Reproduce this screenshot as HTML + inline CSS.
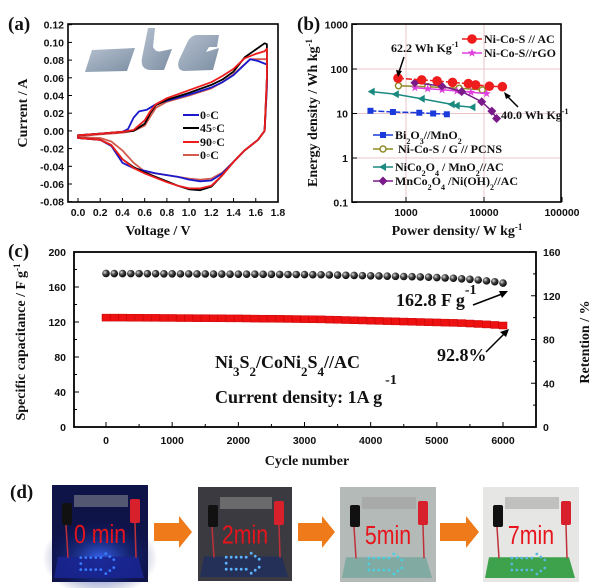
<!DOCTYPE html>
<html><head><meta charset="utf-8"><style>
html,body{margin:0;padding:0;background:#fff;}
svg{display:block;}
.tk{font-family:"Liberation Sans",sans-serif;font-weight:bold;font-size:10.5px;fill:#111;}
.tt{font-family:"Liberation Serif",serif;font-weight:bold;fill:#111;}
.pl{font-family:"Liberation Serif",serif;font-weight:bold;font-size:19px;fill:#111;}
.lg{font-family:"Liberation Serif",serif;font-weight:bold;font-size:12px;fill:#111;}
.mn{font-family:"Liberation Sans",sans-serif;font-size:26px;fill:#e8141c;}
</style></head><body>
<svg id="fig" width="600" height="588" viewBox="0 0 600 588" xmlns="http://www.w3.org/2000/svg">
<defs>
<radialGradient id="sph" cx="0.35" cy="0.35" r="0.7"><stop offset="0" stop-color="#ddd"/><stop offset="0.45" stop-color="#444"/><stop offset="1" stop-color="#000"/></radialGradient>
<linearGradient id="shp" x1="0" y1="0" x2="1" y2="1"><stop offset="0" stop-color="#b4c0cf"/><stop offset="1" stop-color="#7d8ea3"/></linearGradient>
<radialGradient id="glow" cx="0.5" cy="0.5" r="0.5"><stop offset="0" stop-color="#3a6cff" stop-opacity="0.9"/><stop offset="1" stop-color="#0a1060" stop-opacity="0"/></radialGradient>
</defs>
<g id="pa"></g>
<g id="pb"></g>
<g id="pc"></g>
<g id="pd"></g>
</svg>
<script>
// ---------- Panel (a) data ----------
const cvV45 = [0,0.2,0.4,0.5,0.6,0.65,0.7,0.8,1.0,1.2,1.3,1.4,1.5,1.6,1.68,1.7,1.7,1.68,1.62,1.5,1.4,1.3,1.2,1.1,1.0,0.9,0.8,0.7,0.6,0.5,0.4,0.3,0.2,0];
const cvI45 = [-0.005,-0.003,-0.001,0.0,0.008,0.02,0.029,0.035,0.043,0.052,0.058,0.067,0.083,0.092,0.099,0.098,0.06,0.0,-0.01,-0.022,-0.035,-0.05,-0.063,-0.067,-0.066,-0.062,-0.057,-0.052,-0.047,-0.041,-0.032,-0.016,-0.01,-0.008];
const cvV0 = [0,0.2,0.4,0.45,0.5,0.55,0.62,0.7,0.8,1.0,1.2,1.3,1.4,1.55,1.62,1.7,1.7,1.68,1.62,1.5,1.4,1.3,1.2,1.1,1.0,0.9,0.8,0.7,0.6,0.5,0.4,0.3,0.2,0];
const cvI0 = [-0.005,-0.003,-0.001,0.002,0.015,0.022,0.024,0.03,0.034,0.041,0.049,0.055,0.063,0.081,0.079,0.075,0.05,0.0,-0.01,-0.022,-0.035,-0.048,-0.056,-0.057,-0.055,-0.052,-0.05,-0.048,-0.045,-0.042,-0.036,-0.017,-0.01,-0.008];
const cvV90 = [0,0.2,0.4,0.5,0.6,0.65,0.7,0.8,1.0,1.2,1.3,1.4,1.5,1.6,1.68,1.7,1.7,1.68,1.62,1.5,1.4,1.3,1.2,1.1,1.0,0.9,0.8,0.7,0.6,0.5,0.4,0.3,0.2,0];
const cvI90 = [-0.005,-0.003,-0.001,0.001,0.012,0.022,0.03,0.037,0.046,0.055,0.062,0.07,0.082,0.087,0.09,0.093,0.06,0.0,-0.01,-0.022,-0.035,-0.05,-0.062,-0.065,-0.065,-0.062,-0.058,-0.053,-0.048,-0.042,-0.032,-0.016,-0.01,-0.008];
const cvV0b = [0,0.2,0.4,0.5,0.6,0.65,0.7,0.8,1.0,1.2,1.3,1.4,1.55,1.62,1.7,1.7,1.68,1.62,1.5,1.4,1.3,1.2,1.1,1.0,0.9,0.8,0.7,0.6,0.5,0.4,0.3,0.2,0];
const cvI0b = [-0.006,-0.004,-0.002,0.0,0.006,0.016,0.026,0.033,0.04,0.048,0.055,0.064,0.081,0.081,0.081,0.05,0.0,-0.01,-0.022,-0.035,-0.047,-0.054,-0.055,-0.054,-0.052,-0.05,-0.048,-0.046,-0.036,-0.022,-0.012,-0.008,-0.007];
const aXTicks = ["0.0","0.2","0.4","0.6","0.8","1.0","1.2","1.4","1.6","1.8"];
const aYTicks = ["-0.08","-0.06","-0.04","-0.02","0.00","0.02","0.04","0.06","0.08","0.10","0.12"];
const aLegend = ["0◦C","45◦C","90◦C","0◦C"];

// ---------- Panel (b) data ----------
const bAC_P = [790,1590,2500,3950,6300,7800,11700,17200];
const bAC_E = [62.2,57,54,50,47,44,41,40];
const bRGO_P = [1300,1900,2900,4500,6800,10800];
const bRGO_E = [38,36,34,32,30,28];
const bPCNS_P = [800,1900,4800,9500];
const bPCNS_E = [42,40,37,34];
const bBi_P = [350,680,1480,2230,3340];
const bBi_E = [11.5,10.8,10.4,10,9.6];
const bNiCo_P = [363,740,1590,3850,4470,7100];
const bNiCo_E = [31,27,21.5,16,15,13.8];
const bMn_P = [1300,2870,5180,9350,12600,14500];
const bMn_E = [49,41.5,31,18.4,11.3,7.7];
const bXTicks = [1000,10000,100000];
const bYTicks = [0.1,1,10,100,1000];

// ---------- Panel (c) data ----------
const cCycles = [0,125,250,375,500,625,750,875,1000,1125,1250,1375,1500,1625,1750,1875,2000,2125,2250,2375,2500,2625,2750,2875,3000,3125,3250,3375,3500,3625,3750,3875,4000,4125,4250,4375,4500,4625,4750,4875,5000,5125,5250,5375,5500,5625,5750,5875,6000];
const cCap = [175.5,175.4,175.4,175.3,175.3,175.2,175.2,175.1,175.1,175,175,174.9,174.9,174.8,174.8,174.7,174.7,174.6,174.6,174.5,174.5,174.4,174.3,174.3,174.2,174.1,174,173.8,173.6,173.4,173.2,173,172.8,172.6,172.4,172.2,172,171.8,171.5,171.2,170.8,170.4,170,169.4,168.8,168,167,166,164.5,162.8];
const cRet = [100,100,100,99.9,99.9,99.8,99.8,99.7,99.7,99.6,99.6,99.5,99.5,99.4,99.4,99.3,99.3,99.2,99.1,99,99,98.9,98.8,98.7,98.6,98.5,98.4,98.2,98,97.8,97.6,97.4,97.2,97,96.8,96.6,96.4,96.2,96,95.8,95.6,95.4,95.2,95,94.6,94.2,93.8,93.3,92.8];
const cXTicks = [0,1000,2000,3000,4000,5000,6000];
const cYLTicks = [0,40,80,120,160,200];
const cYRTicks = [0,40,80,120,160];

const NS="http://www.w3.org/2000/svg";
function mk(parent,tag,attrs,text){const e=document.createElementNS(NS,tag);for(const k in attrs)e.setAttribute(k,attrs[k]);if(text!==undefined)e.textContent=text;parent.appendChild(e);return e;}

// ===== Panel A =====
(function(){
const g=document.getElementById('pa');
const ax=v=>78+v*111.1, ay=i=>201.7-(i+0.08)*885;
let t=mk(g,'text',{x:8,y:30,class:'pl'},'(a)');


const ins=mk(g,'g',{});


mk(ins,'path',{d:'M92,50 L135,48 L127,71 L85,72 Z',fill:'url(#shp)'});
mk(ins,'path',{d:'M148,28 L155,28 L153,47 Q156,53 162,51 L172,49 L164,70 L150,70 Q140,69 142,58 Z',fill:'url(#shp)'});
mk(ins,'path',{d:'M196,35 L219,35 L217,47 L209,47 L206,52 L219,48 L213,70 L184,71 Q176,70 179,60 L187,43 Q190,36 196,35 Z',fill:'url(#shp)'});
aXTicks.forEach((s,k)=>{const v=k*0.2;mk(g,'line',{x1:ax(v),x2:ax(v),y1:202,y2:198,stroke:'#000','stroke-width':1});
 const e=mk(g,'text',{x:ax(v),y:216,'text-anchor':'middle',class:'tk'},s);
 
 });
aYTicks.forEach((s,k)=>{const v=-0.08+k*0.02;mk(g,'line',{x1:68,x2:72,y1:ay(v),y2:ay(v),stroke:'#000','stroke-width':1});
 const e=mk(g,'text',{x:64,y:ay(v)+4,'text-anchor':'end',class:'tk'},s);
 
 });
const series=[[cvV0b,cvI0b,'#d35a4c'],[cvV0,cvI0,'#1a1acc'],[cvV45,cvI45,'#000'],[cvV90,cvI90,'#ee1c1c']];
const names=['cv-curve-0c-repeat','cv-curve-0c','cv-curve-45c','cv-curve-90c'];
series.forEach((s,k)=>{let d='';s[0].forEach((v,i)=>{d+=(i?'L':'M')+ax(v).toFixed(1)+','+ay(s[1][i]).toFixed(1);});
 const p=mk(g,'path',{d:d+'Z',fill:'none',stroke:s[2],'stroke-width':1.8,'stroke-linejoin':'round'});
 
 });
mk(g,'rect',{x:68,y:24,width:210,height:178,fill:'none',stroke:'#000','stroke-width':1.6});
const lc=['#1a1acc','#000','#ee1c1c','#d35a4c'];const ly=[115,128,142,155];
aLegend.forEach((s,k)=>{mk(g,'line',{x1:183,x2:199,y1:ly[k],y2:ly[k],stroke:lc[k],'stroke-width':2});
 const e=mk(g,'text',{x:200,y:ly[k]+4,class:'lg'},s);
 
 });
t=mk(g,'text',{x:0,y:0,class:'tt','font-size':14,transform:'translate(27,113) rotate(-90)','text-anchor':'middle'},'Current / A');


t=mk(g,'text',{x:158,y:235,class:'tt','font-size':14,'text-anchor':'middle'},'Voltage / V');


})();

// ===== Panel B =====
(function(){
const g=document.getElementById('pb');
const bx=p=>406+(Math.log10(p)-3)*78, by=e=>69-(Math.log10(e)-2)*44.5;
let t=mk(g,'text',{x:297,y:30,class:'pl'},'(b)');


[1000,10000].forEach(p=>mk(g,'line',{x1:bx(p),x2:bx(p),y1:24,y2:202,stroke:'#e9c4c8','stroke-width':1}));
[1,10,100].forEach(e=>mk(g,'line',{x1:352,x2:561,y1:by(e),y2:by(e),stroke:'#e9c4c8','stroke-width':1}));
bXTicks.forEach(p=>{mk(g,'line',{x1:bx(p),x2:bx(p),y1:202,y2:197,stroke:'#000'});
 const e=mk(g,'text',{x:bx(p),y:216,'text-anchor':'middle',class:'tk'},String(p));
 
 });
bYTicks.forEach(v=>{mk(g,'line',{x1:352,x2:357,y1:by(v),y2:by(v),stroke:'#000'});
 const e=mk(g,'text',{x:348,y:by(v)+4,'text-anchor':'end',class:'tk'},String(v));
 
 });
function marker(par,type,x,y,c){
 if(type==='circle')return mk(par,'circle',{cx:x,cy:y,r:4.8,fill:c});
 if(type==='ocircle')return mk(par,'circle',{cx:x,cy:y,r:3,fill:'#fff',stroke:c,'stroke-width':1.5});
 if(type==='square')return mk(par,'rect',{x:x-3,y:y-3,width:6,height:6,fill:c});
 if(type==='tri')return mk(par,'path',{d:`M${x-4},${y} L${x+3},${y-4} L${x+3},${y+4} Z`,fill:c});
 if(type==='diam')return mk(par,'path',{d:`M${x},${y-4.5} L${x+4.5},${y} L${x},${y+4.5} L${x-4.5},${y} Z`,fill:c});
 if(type==='star'){let d='';for(let i=0;i<10;i++){const r=i%2?1.8:4.5,a=-Math.PI/2+i*Math.PI/5;d+=(i?'L':'M')+(x+r*Math.cos(a)).toFixed(1)+','+(y+r*Math.sin(a)).toFixed(1);}return mk(par,'path',{d:d+'Z',fill:c});}
}
const S=[[bBi_P,bBi_E,'#1a3adb','square','series-bi2o3-mno2',true],[bNiCo_P,bNiCo_E,'#1a8a80','tri','series-nico2o4-mno2-ac',false],[bPCNS_P,bPCNS_E,'#8f8a24','ocircle','series-nicos-g-pcns',false],[bRGO_P,bRGO_E,'#e040e0','star','series-nicos-rgo',false],[bMn_P,bMn_E,'#7a1a8a','diam','series-mnco2o4-nioh2-ac',false],[bAC_P,bAC_E,'#ee1c1c','circle','series-nicos-ac',true]];
S.forEach(s=>{const sg=mk(g,'g',{});
 
 
 let d='';s[0].forEach((p,i)=>{d+=(i?'L':'M')+bx(p).toFixed(1)+','+by(s[1][i]).toFixed(1);});
 mk(sg,'path',{d:d,fill:'none',stroke:s[2],'stroke-width':1.5,'stroke-dasharray':s[5]?'6,2':'none'});
 s[0].forEach((p,i)=>{const m=marker(sg,s[3],bx(p),by(s[1][i]),s[2]);
  
  });});
mk(g,'rect',{x:352,y:24,width:209,height:178,fill:'none',stroke:'#000','stroke-width':1.6});
const L1=[['Ni-Co-S // AC','#ee1c1c','circle',39],['Ni-Co-S//rGO','#e040e0','star',53]];
L1.forEach(l=>{mk(g,'line',{x1:462,x2:482,y1:l[3],y2:l[3],stroke:l[1],'stroke-width':1.5});marker(g,l[2],472,l[3],l[1]);
 const e=mk(g,'text',{x:484,y:l[3]+4,class:'lg','font-size':11},l[0]);
 
 });
const L2=[['Bi<tspan baseline-shift="sub" font-size="8">2</tspan>O<tspan baseline-shift="sub" font-size="8">3</tspan>//MnO<tspan baseline-shift="sub" font-size="8">2</tspan>','#1a3adb','square',135],['&#160;Ni-Co-S / G // PCNS','#8f8a24','ocircle',149],['NiCo<tspan baseline-shift="sub" font-size="8">2</tspan>O<tspan baseline-shift="sub" font-size="8">4</tspan> / MnO<tspan baseline-shift="sub" font-size="8">2</tspan>//AC','#1a8a80','tri',167],['MnCo<tspan baseline-shift="sub" font-size="8">2</tspan>O<tspan baseline-shift="sub" font-size="8">4</tspan> /Ni(OH)<tspan baseline-shift="sub" font-size="8">2</tspan>//AC','#7a1a8a','diam',181]];
L2.forEach(l=>{mk(g,'line',{x1:373,x2:393,y1:l[3],y2:l[3],stroke:l[1],'stroke-width':1.5});marker(g,l[2],383,l[3],l[1]);
 const e=mk(g,'text',{x:395,y:l[3]+4,class:'lg','font-size':11});e.innerHTML=l[0];
 
 });
t=mk(g,'text',{x:391,y:52,class:'lg','font-size':11});t.innerHTML='62.2 Wh Kg<tspan dy="-5" font-size="8">-1</tspan>';


mk(g,'line',{x1:404,y1:57,x2:399,y2:72,stroke:'#000','stroke-width':1.5});
mk(g,'path',{d:'M396,70 L398,77 L402,71 Z',fill:'#000'});
t=mk(g,'text',{x:501,y:119,class:'lg','font-size':11});t.innerHTML='40.0 Wh Kg<tspan dy="-5" font-size="8">-1</tspan>';


mk(g,'line',{x1:518,y1:107,x2:508,y2:97,stroke:'#000','stroke-width':1.5});
mk(g,'path',{d:'M504,92 L511,96 L506,99 Z',fill:'#000'});
t=mk(g,'text',{x:0,y:0,class:'tt','font-size':14,transform:'translate(317,113) rotate(-90)','text-anchor':'middle'});t.innerHTML='Energy density / Wh kg<tspan dy="-5" font-size="9">-1</tspan>';


t=mk(g,'text',{x:457,y:235,class:'tt','font-size':14,'text-anchor':'middle'});t.innerHTML='Power density/ W kg<tspan dy="-5" font-size="9">-1</tspan>';


})();

// ===== Panel C =====
(function(){
const g=document.getElementById('pc');
const cx=v=>106+v*0.06617, cyl=v=>427-v*0.875, cyr=p=>427-p*175/160;
let t=mk(g,'text',{x:8,y:257,class:'pl'},'(c)');


for(let v=0;v<=6500;v+=500){if(cx(v)>536)break;const maj=v%1000===0;mk(g,'line',{x1:cx(v),x2:cx(v),y1:427,y2:427-(maj?5:3),stroke:'#000'});}
cXTicks.forEach(v=>{const e=mk(g,'text',{x:cx(v),y:444,'text-anchor':'middle',class:'tk'},String(v));
 
 });
for(let v=0;v<=200;v+=20){mk(g,'line',{x1:74,x2:74+(v%40===0?5:3),y1:cyl(v),y2:cyl(v),stroke:'#000'});}
for(let v=0;v<=160;v+=20){mk(g,'line',{x1:536,x2:536-(v%40===0?5:3),y1:cyr(v),y2:cyr(v),stroke:'#000'});}
cYLTicks.forEach(v=>{const e=mk(g,'text',{x:66,y:cyl(v)+4,'text-anchor':'end',class:'tk'},String(v));
 
 });
cYRTicks.forEach(v=>{const e=mk(g,'text',{x:543,y:cyr(v)+4,class:'tk'},String(v));
 
 });
const rg=mk(g,'g',{});


cCycles.forEach((c,i)=>{const m=mk(rg,'rect',{x:cx(c)-4,y:cyr(cRet[i])-3.5,width:8,height:7,fill:'#ee1111',stroke:'#c00','stroke-width':0.5});
 
 });
const sg=mk(g,'g',{});


cCycles.forEach((c,i)=>{const m=mk(sg,'circle',{cx:cx(c),cy:cyl(cCap[i]),r:3.8,fill:'url(#sph)'});
 
 });
mk(g,'rect',{x:74,y:252,width:462,height:175,fill:'none',stroke:'#000','stroke-width':1.8});
t=mk(g,'text',{x:396,y:306,class:'tt','font-size':18});t.innerHTML='162.8 F g<tspan dy="-12" font-size="14">-1</tspan>';


mk(g,'line',{x1:473,y1:305,x2:502,y2:294,stroke:'#000','stroke-width':1.5});
mk(g,'path',{d:'M508,291 L499,291 L502,298 Z',fill:'#000'});
t=mk(g,'text',{x:437,y:361,class:'tt','font-size':18},'92.8%');


mk(g,'line',{x1:486,y1:352,x2:504,y2:334,stroke:'#000','stroke-width':1.5});
mk(g,'path',{d:'M509,329 L500,332 L506,337 Z',fill:'#000'});
t=mk(g,'text',{x:215,y:368,class:'tt','font-size':18});t.innerHTML='Ni<tspan baseline-shift="sub" font-size="13">3</tspan>S<tspan baseline-shift="sub" font-size="13">2</tspan>/CoNi<tspan baseline-shift="sub" font-size="13">2</tspan>S<tspan baseline-shift="sub" font-size="13">4</tspan>//AC';


t=mk(g,'text',{x:215,y:403,class:'tt','font-size':18});t.innerHTML='Current density: 1A g<tspan dy="-19" dx="3" font-size="14">-1</tspan>';


t=mk(g,'text',{x:0,y:0,class:'tt','font-size':14,transform:'translate(25,342) rotate(-90)','text-anchor':'middle'});t.innerHTML='Specific capacitance / F g<tspan dy="-5" font-size="9">-1</tspan>';


t=mk(g,'text',{x:0,y:0,class:'tt','font-size':14,transform:'translate(589,342) rotate(-90)','text-anchor':'middle'},'Retention / %');


t=mk(g,'text',{x:307,y:465,class:'tt','font-size':14,'text-anchor':'middle'},'Cycle number');


})();

// ===== Panel D =====
(function(){
const g=document.getElementById('pd');
let t=mk(g,'text',{x:10,y:498,class:'pl'},'(d)');


const photos=[[52,485,96,97,'#0e1448','#1a2590','#2244cc','0 min','#3a7cff','photo-0-min'],[198,487,94,94,'#3a3a40','#22305a','#2a4a80','2min','#5ab4ff','photo-2-min'],[340,487,96,95,'#b4bab8','#7aa8a0','#3aa090','5min','#4ad0e0','photo-5-min'],[483,487,96,95,'#e6e6e4','#2a9a3a','#2a9a3a','7min','#5ab8e0','photo-7-min']];
photos.forEach(p=>{const [x,y,w,h,bg,bd1,bd2,lab,led,nm]=p;const pg=mk(g,'g',{});
 
 
 mk(pg,'rect',{x:x,y:y,width:w,height:h,fill:bg});
 if(nm==='photo-0-min')mk(pg,'ellipse',{cx:x+w/2,cy:y+h*0.75,rx:w*0.6,ry:h*0.4,fill:'url(#glow)'});
 mk(pg,'path',{d:`M${x+6},${y+h*0.74} L${x+w-10},${y+h*0.74} L${x+w-4},${y+h-4} L${x+2},${y+h-4} Z`,fill:bd1,opacity:0.9});
 mk(pg,'rect',{x:x+10,y:y+18,width:10,height:22,fill:'#111',rx:2});
 mk(pg,'rect',{x:x+w-18,y:y+14,width:10,height:24,fill:'#d8202c',rx:2});
 mk(pg,'rect',{x:x+22,y:y+10,width:w-42,height:12,fill:'#999',opacity:0.5});
 mk(pg,'path',{d:`M${x+14},${y+40} L${x+16},${y+h*0.75} M${x+w-13},${y+38} L${x+w-12},${y+h*0.75}`,stroke:'#c0303a','stroke-width':1.5,fill:'none'});
 const ax0=x+w*0.3,ay0=y+h*0.8;
 for(let i=0;i<5;i++){mk(pg,'circle',{cx:ax0+i*5,cy:ay0-5,r:1.4,fill:led});mk(pg,'circle',{cx:ax0+i*5,cy:ay0+7,r:1.4,fill:led});}
 mk(pg,'circle',{cx:ax0,cy:ay0+1,r:1.4,fill:led});
 for(let i=0;i<3;i++){mk(pg,'circle',{cx:ax0+25+i*4,cy:ay0-9+i*3,r:1.4,fill:led});mk(pg,'circle',{cx:ax0+25+i*4,cy:ay0+11-i*3,r:1.4,fill:led});}
 const cxm=x+w/2;
 const e=mk(pg,'text',{x:0,y:0,'text-anchor':'middle',class:'mn',transform:`translate(${cxm},${y+h*0.6}) scale(0.82,1)`},lab);
 
 });
[[154,192],[298,335],[440,479]].forEach(a=>{const p=mk(g,'path',{d:`M${a[0]},523 L${a[1]-13},523 L${a[1]-13},516 L${a[1]},532 L${a[1]-13},548 L${a[1]-13},541 L${a[0]},541 Z`,fill:'#ee7a1a'});
 
 });
})();
</script>
</body></html>
